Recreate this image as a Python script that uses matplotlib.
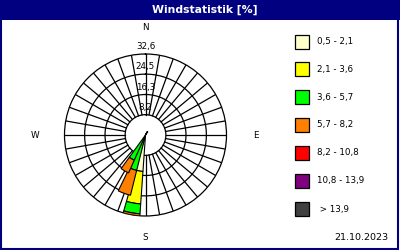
import numpy as np
import matplotlib
matplotlib.use('Agg')
import matplotlib.pyplot as plt
from matplotlib.patches import Rectangle

# wind directions (deg) and frequency per speed class (%)
directions = [20, 30, 190, 200, 210]
class_labels = ['0,5 - 2,1', '2,1 - 3,6', '3,6 - 5,7', '5,7 - 8,2',
                '8,2 - 10,8', '10,8 - 13,9', ' > 13,9']
class_colors = ['#ffffcc', '#ffff00', '#00ff00', '#ff8000',
                '#ff0000', '#800080', '#404040']
c1 = [0.6, 0.0, 14.7, 0.0, 0.0]
c2 = [0.0, 1.6, 13.1, 0.0, 0.0]
c3 = [0.0, 0.0, 4.0, 14.7, 11.1]
c4 = [0.0, 0.0, 0.8, 10.3, 5.6]
c5 = [0.0, 0.0, 0.0, 0.0, 0.0]
c6 = [0.0, 0.0, 0.0, 0.0, 0.0]
c7 = [0.0, 0.0, 0.0, 0.0, 0.0]
ring_values = [8.2, 16.3, 24.5, 32.6]
ring_labels = ['8,2', '16,3', '24,5', '32,6']
date_text = '21.10.2023'

navy = '#000080'
fig = plt.figure(figsize=(4, 2.5), dpi=100)
fig.patch.set_facecolor('white')

# polar axes: centre at (145.5, 135) px, radius 81 px
ax = fig.add_axes([64.5 / 400, (115 - 81) / 250, 162 / 400, 162 / 250], projection='polar')
ax.set_theta_zero_location('N')
ax.set_theta_direction(-1)
rmax = ring_values[-1]
ax.set_ylim(0, rmax)
ax.grid(False)
ax.set_xticks([])
ax.set_yticks([])
ax.spines['polar'].set_linewidth(0.9)

r_hole = ring_values[0]
th = np.linspace(0, 2 * np.pi, 361)
for r in ring_values[:-1]:
    ax.plot(th, np.full_like(th, r), color='black', lw=0.9)
for a in range(0, 360, 10):
    ax.plot([np.radians(a)] * 2, [r_hole, rmax], color='black', lw=0.9)

theta = np.radians(directions)
bottom = np.zeros(len(directions))
for vals, col in zip([c1, c2, c3, c4, c5, c6, c7], class_colors):
    vals = np.array(vals)
    mask = vals > 0
    if mask.any():
        ax.bar(theta[mask], vals[mask], width=np.radians(12), bottom=bottom[mask],
               color=col, edgecolor='black', linewidth=0.8, zorder=3)
    bottom += vals

for r, lab in zip(ring_values, ring_labels):
    ax.text(0, r + 3.0, lab, ha='center', va='center', fontsize=6.3,
            clip_on=False, zorder=4)

# title bar and frame
fig.patches.append(Rectangle((0, 230 / 250), 1, 20 / 250, transform=fig.transFigure,
                             facecolor=navy, edgecolor='none'))
fig.patches.append(Rectangle((0.002, 0.004), 0.994, 0.99, transform=fig.transFigure,
                             facecolor='none', edgecolor=navy, linewidth=1.5))
fig.text(205 / 400, 1 - 10 / 250, 'Windstatistik [%]', color='white', fontsize=7.8,
         fontweight='bold', ha='center', va='center')

for lab, x, y in [('N', 145.5, 27), ('S', 145.5, 238), ('W', 35, 135), ('E', 256, 135)]:
    fig.text(x / 400, 1 - y / 250, lab, fontsize=6.3, ha='center', va='center')

# legend
ys = [41.7, 69.3, 97.3, 125, 152.7, 180.7, 209.3]
for y, col, lab in zip(ys, class_colors, class_labels):
    fig.patches.append(Rectangle((295 / 400, 1 - (y + 7) / 250), 14 / 400, 14 / 250,
                                 transform=fig.transFigure, facecolor=col,
                                 edgecolor='black', linewidth=0.9))
    fig.text(317 / 400, 1 - y / 250, lab, fontsize=6.3, ha='left', va='center')

fig.text(361 / 400, 1 - 238 / 250, date_text, fontsize=6.8, ha='center', va='center')

fig.savefig('out.png', dpi=100)
